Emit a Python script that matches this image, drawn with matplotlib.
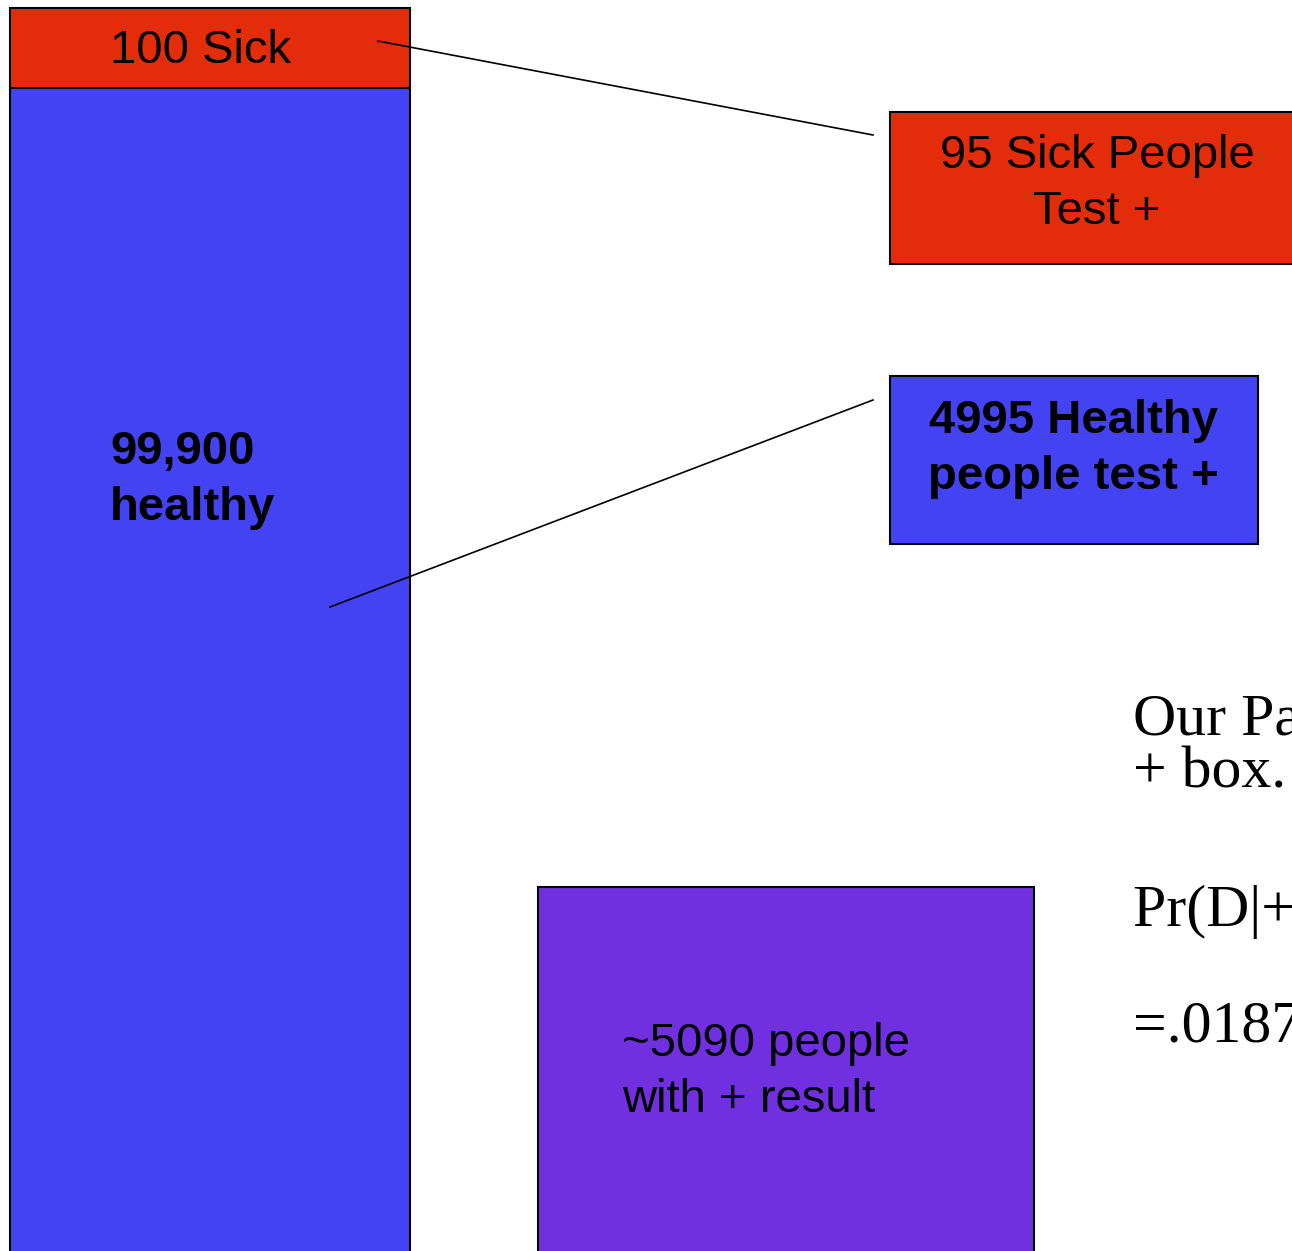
import matplotlib.pyplot as plt
from matplotlib.patches import Rectangle

# labels for each box in the diagram
sick_label = "100 Sick"
healthy_label = "99,900\nhealthy"
sick_pos_label = "95 Sick People\nTest +"
healthy_pos_label = "4995 Healthy\npeople test +"
all_pos_label = "~5090 people\nwith + result"
side_lines = ["Our Patient is somewhere in the", "+ box.", "Pr(D|+) = 95/5090", "=.0187"]

red = '#E32D0A'
blue = '#4343F3'
purple = '#7030E0'

fig = plt.figure(figsize=(12.92, 12.51), dpi=100)
ax = fig.add_axes([0, 0, 1, 1])
ax.set_xlim(0, 1292)
ax.set_ylim(1251, 0)
ax.axis('off')

sans = 'Liberation Sans'
serif = 'Liberation Serif'
ls = 1.36

# big population bar
ax.add_patch(Rectangle((10, 88), 400, 1200, facecolor=blue, edgecolor='black', lw=1.5))
ax.add_patch(Rectangle((10, 8), 400, 80, facecolor=red, edgecolor='black', lw=1.5))
ax.text(200, 51, sick_label, fontsize=34, family=sans, ha='center', va='center')
ax.text(110, 480, healthy_label, fontsize=34, family=sans, weight='bold',
        ha='left', va='center', linespacing=ls)

# test positive boxes
ax.add_patch(Rectangle((890, 112), 420, 152, facecolor=red, edgecolor='black', lw=1.5))
ax.text(1097, 184, sick_pos_label, fontsize=34, family=sans, ha='center', va='center',
        linespacing=ls)
ax.add_patch(Rectangle((890, 376), 368, 168, facecolor=blue, edgecolor='black', lw=1.5))
ax.text(1073, 449, healthy_pos_label, fontsize=34, family=sans, weight='bold',
        ha='center', va='center', linespacing=ls)

# connector lines
ax.plot([378, 873], [41, 135], color='black', lw=1.2)
ax.plot([330, 873], [607, 400], color='black', lw=1.2)

# combined positive box
ax.add_patch(Rectangle((538, 887), 496, 400, facecolor=purple, edgecolor='black', lw=1.5))
ax.text(622, 1072, all_pos_label, fontsize=34, family=sans, ha='left', va='center',
        linespacing=ls)

# explanation text on the right (runs off the slide edge as in the original)
ys = [735, 787, 926, 1042]
for y, s in zip(ys, side_lines):
    ax.text(1133, y, s, fontsize=43, family=serif, ha='left', va='baseline')

fig.savefig('out.png', dpi=100)
